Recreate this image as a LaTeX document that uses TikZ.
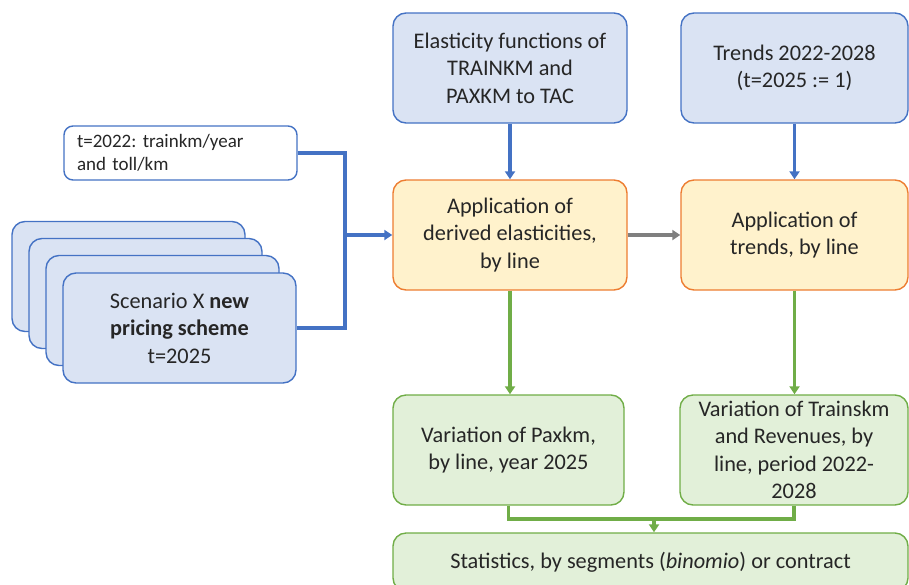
\documentclass[tikz,border=0pt]{standalone}
\usepackage{fontspec}
\setmainfont{Carlito}
\usepackage{tikz}
\usetikzlibrary{arrows.meta}
\frenchspacing

\definecolor{bluefill}{HTML}{DAE3F3}
\definecolor{blueline}{HTML}{4472C4}
\definecolor{orangefill}{HTML}{FFF2CC}
\definecolor{orangeline}{HTML}{ED7D31}
\definecolor{greenfill}{HTML}{E2F0D9}
\definecolor{greenline}{HTML}{70AD47}
\definecolor{greyline}{HTML}{7F7F7F}
\definecolor{textgrey}{HTML}{262626}

\tikzset{
  box/.style={rounded corners=13pt, line width=1.4pt, align=center,
    inner sep=0pt, text=textgrey,
    font=\fontsize{22.3}{27.5}\selectfont},
  bluebox/.style={box, draw=blueline, fill=bluefill},
  orangebox/.style={box, draw=orangeline, fill=orangefill},
  greenbox/.style={box, draw=greenline, fill=greenfill},
  notebox/.style={rounded corners=9pt, line width=1.4pt, draw=blueline,
    fill=white, align=left, text=textgrey, inner sep=0pt,
    font=\fontsize{19}{23}\selectfont},
  blueflow/.style={line width=3.2pt, draw=blueline},
  greenflow/.style={line width=3.2pt, draw=greenline},
  greyflow/.style={line width=3.4pt, draw=greyline},
  tip/.style={-{Triangle[length=8pt,width=10pt]}}
}

\begin{document}
\begin{tikzpicture}[x=1pt,y=-1pt]
		\useasboundingbox (0,0) rectangle (909,584);
		\clip (0,0) rectangle (909,584);

		% inputs
		\node[bluebox, minimum width=234pt, minimum height=110pt] (elast) at (510,68)
			{Elasticity functions of\\TRAINKM and\\PAXKM to TAC};
		\node[bluebox, minimum width=227pt, minimum height=110pt] (trends) at (794.5,68)
			{Trends 2022-2028\\(t=2025 := 1)};
		\node[notebox, minimum width=233pt, minimum height=54pt, text width=207pt] (base) at (180.5,153)
			{t=2022: trainkm/year\\and toll/km};

		% scenario stack
		\node[bluebox, minimum width=233pt, minimum height=110pt] (scen1) at (128.5,276.5) {};
		\node[bluebox, minimum width=233pt, minimum height=110pt] (scen2) at (145.5,293.5) {};
		\node[bluebox, minimum width=233pt, minimum height=110pt] (scen3) at (162.5,310.5) {};
		\node[bluebox, minimum width=233pt, minimum height=110pt] (scen4) at (179.5,328)
			{Scenario X \textbf{new}\\\textbf{pricing scheme}\\t=2025};

		% processing
		\node[orangebox, minimum width=234pt, minimum height=110pt] (apply1) at (510,235)
			{Application of\\derived elasticities,\\by line};
		\node[orangebox, minimum width=227pt, minimum height=110pt] (apply2) at (794.5,235)
			{Application of\\trends, by line};

		% results
		\node[greenbox, minimum width=231pt, minimum height=110pt] (paxkm) at (508.5,450)
			{Variation of Paxkm,\\by line, year 2025};
		\node[greenbox, minimum width=228pt, minimum height=110pt] (trainkm) at (794,450)
			{Variation of Trainskm\\and Revenues, by\\line, period 2022-\\2028};
		\node[greenbox, minimum width=515pt, minimum height=58pt] (stats) at (650.5,562)
			{Statistics, by segments (\textit{binomio}) or contract};

		\coordinate (join) at (345,235);
		\coordinate (merge) at (654,519);

		\draw[blueflow] (base.east) -| (join);
		\draw[blueflow] (scen4.east) -| (join);
		\draw[blueflow,tip] (join) -- (apply1.west);
		\draw[blueflow,tip] (elast.south) -- (apply1.north);
		\draw[blueflow,tip] (trends.south) -- (apply2.north);
		\draw[greyflow,tip] (apply1.east) -- (apply2.west);
		\draw[greenflow,tip] (apply1.south) -- (apply1.south |- paxkm.north);
		\draw[greenflow,tip] (apply2.south) -- (apply2.south |- trainkm.north);
		\draw[greenflow] (paxkm.south) |- (merge);
		\draw[greenflow] (trainkm.south) |- (merge);
		\draw[greenflow,tip] (merge) -- (merge |- stats.north);
	\end{tikzpicture}
\end{document}
